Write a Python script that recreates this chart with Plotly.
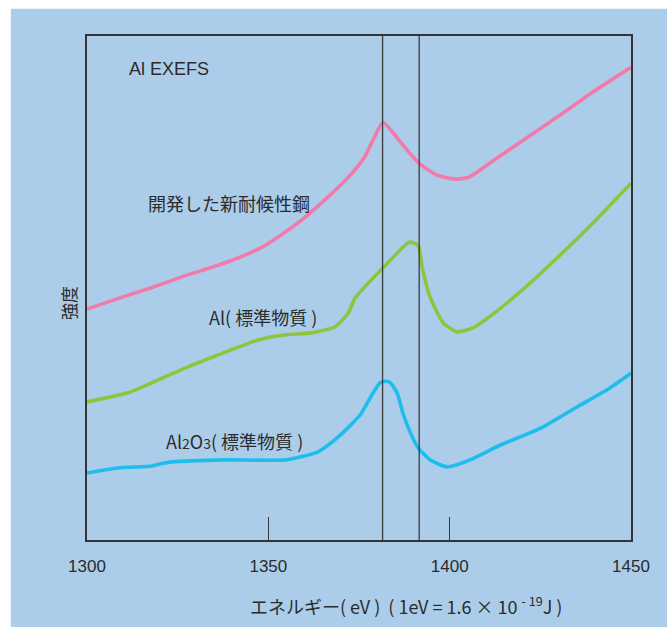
import plotly.graph_objects as go

# Energy axis (eV) and relative intensity readings for each spectrum
steel_ev = [1300, 1308.5, 1317.9, 1327.0, 1338.9, 1348.3, 1357.4, 1365.6, 1373.1, 1376.7,
            1378.9, 1381.6, 1384.4, 1388.2, 1391.5, 1396.5, 1402.0, 1405.6, 1411.9, 1421.3,
            1430.4, 1439.5, 1450]
steel_int = [45.8, 47.9, 50.1, 52.4, 55.2, 58.1, 62.5, 67.5, 72.8, 76.2,
             79.4, 82.9, 80.8, 77.4, 74.8, 72.4, 71.6, 72.1, 75.2, 79.8,
             84.3, 88.9, 93.8]

al_ev = [1300, 1311.3, 1317.9, 1327.0, 1336.1, 1347.2, 1354.6, 1362.0, 1368.4, 1372.0,
         1373.9, 1375.8, 1381.6, 1385.5, 1388.8, 1391.3, 1392.4, 1394.6, 1398.2, 1402.0,
         1406.4, 1411.9, 1421.3, 1430.4, 1439.5, 1450]
al_int = [27.4, 29.2, 31.2, 34.1, 36.7, 39.7, 40.7, 41.1, 42.3, 45.0,
          48.0, 49.6, 54.0, 56.9, 59.1, 58.5, 54.2, 48.2, 43.1, 41.3,
          42.1, 44.8, 50.4, 56.5, 62.9, 70.8]

al2o3_ev = [1300, 1308.5, 1317.9, 1320.1, 1323.4, 1338.1, 1354.6, 1363.7, 1369.2, 1375.3,
            1378.9, 1380.8, 1382.2, 1383.5, 1385.5, 1387.1, 1389.1, 1391.3, 1394.6, 1399.3,
            1405.6, 1413.9, 1425.7, 1435.1, 1443.4, 1450]
al2o3_int = [13.3, 14.3, 14.7, 15.1, 15.5, 15.9, 15.9, 17.5, 20.4, 24.8,
             29.2, 31.2, 31.5, 31.3, 29.2, 25.2, 21.4, 18.3, 15.9, 14.5,
             15.9, 18.8, 22.4, 26.4, 29.8, 33.1]

x_ticks = [1300, 1350, 1400, 1450]
edge_lines = [1381.5, 1391.6]

BG = "#abcdea"
INK = "#2b2b2b"
FONT = "Arial, 'Liberation Sans', 'Noto Sans CJK JP', sans-serif"
JP_FONT = "'Noto Sans CJK JP', Arial, sans-serif"

fig = go.Figure()
for xs, ys, color in [(steel_ev, steel_int, "#f27aab"),
                      (al_ev, al_int, "#8cc63f"),
                      (al2o3_ev, al2o3_int, "#1dbdec")]:
    fig.add_trace(go.Scatter(x=xs, y=ys, mode="lines",
                             line=dict(color=color, width=3.6, shape="spline", smoothing=0.55),
                             hoverinfo="skip", showlegend=False))

shapes = [
    # light-blue panel behind the chart
    dict(type="rect", xref="paper", yref="paper", x0=-0.14, x1=1.08, y0=-0.18, y1=1.054,
         fillcolor=BG, line=dict(width=0), layer="below"),
]
for xv in edge_lines:
    shapes.append(dict(type="line", xref="x", yref="paper", x0=xv, x1=xv, y0=0, y1=1,
                       line=dict(color="#3a3a3a", width=1.3)))

annotations = [
    dict(text="Al EXEFS", x=1311, y=93.5, xanchor="left", yanchor="middle",
         showarrow=False, font=dict(family=FONT, size=18, color=INK)),
    dict(text="開発した新耐候性鋼", x=1316.2, y=66.8, xanchor="left", yanchor="middle",
         showarrow=False, font=dict(family=JP_FONT, size=18, color=INK)),
    dict(text="Al( 標準物質 )", x=1333.0, y=44.2, xanchor="left", yanchor="middle",
         showarrow=False, font=dict(family=JP_FONT, size=18, color=INK)),
    dict(text="Al<span style='font-size:14px'>2</span>O<span style='font-size:14px'>3</span>( 標準物質 )",
         x=1321.3, y=19.6, xanchor="left", yanchor="middle",
         showarrow=False, font=dict(family=JP_FONT, size=18, color=INK)),
    dict(text="強度", xref="paper", yref="paper", x=-0.035, y=0.47, textangle=-90,
         xanchor="center", yanchor="middle", showarrow=False,
         font=dict(family=JP_FONT, size=17, color=INK)),
    dict(text="エネルギー( eV )\u00a0\u00a0( 1eV = 1.6 × 10 <sup>- 19</sup>J )", xref="paper", yref="paper",
         x=0.586, y=-0.128, xanchor="center", yanchor="middle", showarrow=False,
         font=dict(family=JP_FONT, size=18, color=INK)),
]

fig.update_layout(
    width=667, height=627,
    margin=dict(l=87, r=36, t=36, b=87),
    paper_bgcolor="white", plot_bgcolor=BG,
    shapes=shapes, annotations=annotations,
    xaxis=dict(range=[1300, 1450], tickvals=x_ticks, ticktext=[str(v) for v in x_ticks],
               ticks="inside", ticklen=23, tickwidth=1.3, tickcolor="#3a3a3a",
               showline=True, linecolor="#333333", linewidth=2, mirror=True,
               showgrid=False, zeroline=False, ticklabelstandoff=10,
               tickfont=dict(family=FONT, size=17, color=INK)),
    yaxis=dict(range=[0, 100], showticklabels=False, ticks="",
               showline=True, linecolor="#333333", linewidth=2, mirror=True,
               showgrid=False, zeroline=False),
)

fig.write_html("out.html")
